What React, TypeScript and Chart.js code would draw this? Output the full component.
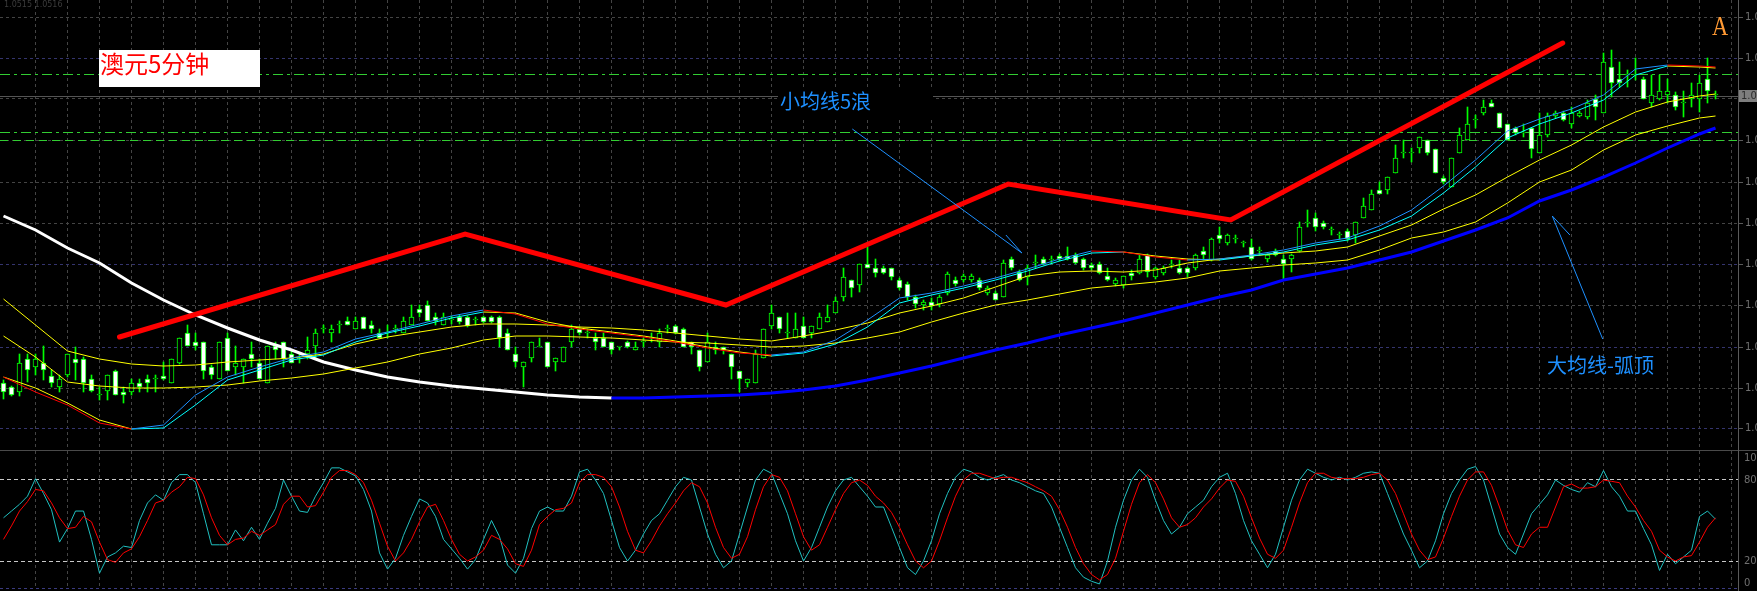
import React, { useEffect, useRef } from "react";
import { Chart, registerables } from "chart.js";

Chart.register(...registerables);

const WIDTH = 1757;
const MAIN_H = 450;
const SUB_H = 141;
const AXIS_W = 19;
const BAR_PX = 8;
const X_MIN = -0.4375;
const X_MAX = X_MIN + (WIDTH - AXIS_W) / BAR_PX;
const Y_MIN = 4810;
const Y_MAX = 5260;

// Prices are in points: price = 1 + points / 100000
const opens = [
  4877, 4873, 4868, 4901, 4893, 4897, 4884, 4873, 4885, 4901,
  4901, 4881, 4865, 4869, 4889, 4868, 4868, 4877, 4881, 4881,
  4884, 4877, 4897, 4927, 4918, 4918, 4893, 4881, 4922, 4893,
  4893, 4906, 4897, 4877, 4914, 4918, 4906, 4901, 4906, 4914,
  4931, 4927, 4935, 4939, 4931, 4943, 4935, 4927, 4927, 4931,
  4927, 4935, 4951, 4955, 4943, 4935, 4940, 4943, 4943, 4940,
  4943, 4943, 4943, 4927, 4906, 4893, 4902, 4913, 4918, 4898,
  4898, 4918, 4931, 4927, 4922, 4922, 4918, 4913, 4918, 4910,
  4918, 4922, 4918, 4931, 4934, 4931, 4918, 4910, 4898, 4913,
  4913, 4906, 4889, 4877, 4877, 4902, 4934, 4943, 4927, 4922,
  4934, 4927, 4931, 4938, 4947, 4963, 4980, 4975, 4996, 4992,
  4992, 4992, 4980, 4976, 4963, 4955, 4958, 4956, 4967, 4980,
  4980, 4980, 4980, 4967, 4967, 4963, 5001, 4988, 4983, 4997,
  5001, 5000, 5004, 5004, 5005, 5001, 4995, 4996, 4984, 4976,
  4975, 4987, 4987, 5005, 4983, 4987, 4995, 4992, 4992, 4992,
  5009, 5000, 5025, 5017, 5021, 5017, 5013, 5009, 5001, 5009,
  5001, 5001, 5009, 5037, 5042, 5037, 5030, 5025, 5029, 5025,
  5042, 5050, 5070, 5070, 5087, 5107, 5107, 5112, 5120, 5111,
  5082, 5073, 5107, 5120, 5140, 5147, 5157, 5147, 5136, 5132,
  5127, 5132, 5107, 5125, 5144, 5147, 5136, 5144, 5143, 5161,
  5147, 5193, 5181, 5185, 5185, 5181, 5157, 5161, 5165, 5165,
  5157, 5161, 5161, 5181, 5165,
];
const highs = [
  4880, 4874, 4906, 4906, 4906, 4914, 4890, 4885, 4906, 4913,
  4903, 4885, 4873, 4885, 4890, 4873, 4881, 4881, 4885, 4885,
  4898, 4901, 4922, 4935, 4927, 4918, 4895, 4918, 4927, 4914,
  4901, 4918, 4901, 4914, 4918, 4918, 4910, 4906, 4923, 4931,
  4935, 4935, 4939, 4943, 4943, 4943, 4939, 4931, 4935, 4935,
  4943, 4955, 4955, 4959, 4947, 4947, 4944, 4945, 4944, 4943,
  4944, 4944, 4944, 4931, 4913, 4898, 4918, 4922, 4918, 4902,
  4913, 4935, 4933, 4931, 4927, 4927, 4918, 4913, 4919, 4918,
  4922, 4927, 4931, 4935, 4935, 4932, 4918, 4910, 4927, 4918,
  4913, 4906, 4889, 4881, 4910, 4931, 4955, 4943, 4947, 4947,
  4943, 4934, 4947, 4955, 4963, 4992, 4980, 4996, 5013, 5001,
  4994, 4992, 4982, 4978, 4965, 4960, 4962, 4965, 4988, 4983,
  4986, 4986, 4982, 4974, 4969, 5000, 5003, 4990, 4995, 5005,
  5003, 5004, 5006, 5013, 5007, 5002, 4997, 4998, 4992, 4982,
  4984, 4990, 5005, 5006, 4993, 4994, 5000, 5000, 4993, 5006,
  5013, 5022, 5033, 5026, 5025, 5019, 5021, 5013, 5006, 5011,
  5005, 5006, 5038, 5050, 5047, 5039, 5033, 5028, 5031, 5038,
  5062, 5070, 5078, 5083, 5115, 5120, 5112, 5123, 5120, 5111,
  5084, 5102, 5132, 5153, 5145, 5160, 5160, 5147, 5136, 5133,
  5136, 5132, 5147, 5147, 5149, 5149, 5153, 5149, 5160, 5165,
  5207, 5210, 5198, 5190, 5202, 5183, 5185, 5185, 5181, 5168,
  5169, 5177, 5185, 5202, 5169,
];
const lows = [
  4861, 4864, 4864, 4878, 4885, 4880, 4873, 4868, 4883, 4880,
  4868, 4868, 4860, 4860, 4865, 4857, 4865, 4868, 4868, 4868,
  4880, 4877, 4896, 4914, 4910, 4881, 4881, 4881, 4889, 4885,
  4877, 4893, 4881, 4877, 4901, 4893, 4897, 4897, 4901, 4901,
  4927, 4918, 4927, 4935, 4931, 4931, 4927, 4922, 4922, 4927,
  4927, 4935, 4943, 4939, 4935, 4935, 4936, 4936, 4933, 4935,
  4937, 4937, 4913, 4910, 4893, 4873, 4898, 4913, 4893, 4889,
  4898, 4913, 4925, 4922, 4910, 4913, 4906, 4910, 4912, 4910,
  4913, 4918, 4913, 4927, 4926, 4913, 4906, 4889, 4898, 4906,
  4906, 4881, 4868, 4873, 4877, 4902, 4931, 4927, 4922, 4922,
  4922, 4922, 4931, 4938, 4947, 4959, 4963, 4968, 4992, 4983,
  4986, 4980, 4970, 4960, 4952, 4950, 4950, 4953, 4965, 4974,
  4978, 4978, 4970, 4965, 4960, 4963, 4990, 4979, 4975, 4992,
  4995, 4996, 4999, 5000, 4996, 4990, 4990, 4986, 4979, 4974,
  4972, 4980, 4986, 4983, 4981, 4985, 4992, 4986, 4983, 4990,
  5000, 4999, 5017, 5015, 5017, 5013, 5000, 5005, 4998, 5004,
  4980, 4988, 5008, 5033, 5029, 5031, 5025, 5021, 5019, 5017,
  5042, 5050, 5066, 5066, 5087, 5102, 5098, 5107, 5105, 5087,
  5076, 5073, 5107, 5120, 5132, 5145, 5153, 5132, 5120, 5125,
  5123, 5102, 5107, 5123, 5142, 5139, 5132, 5143, 5141, 5140,
  5147, 5163, 5173, 5173, 5180, 5161, 5153, 5160, 5157, 5150,
  5143, 5153, 5148, 5157, 5161,
];
const closes = [
  4868, 4865, 4897, 4890, 4901, 4890, 4877, 4881, 4906, 4897,
  4877, 4869, 4865, 4885, 4865, 4865, 4877, 4873, 4877, 4881,
  4881, 4901, 4922, 4914, 4914, 4889, 4885, 4918, 4889, 4897,
  4901, 4901, 4881, 4914, 4910, 4901, 4897, 4901, 4910, 4927,
  4931, 4931, 4935, 4935, 4939, 4931, 4931, 4922, 4927, 4931,
  4939, 4943, 4947, 4939, 4939, 4943, 4940, 4938, 4934, 4940,
  4938, 4938, 4922, 4910, 4898, 4898, 4918, 4913, 4893, 4902,
  4913, 4931, 4927, 4927, 4918, 4913, 4910, 4913, 4913, 4913,
  4918, 4922, 4927, 4931, 4927, 4913, 4913, 4893, 4918, 4910,
  4910, 4893, 4881, 4881, 4906, 4931, 4947, 4931, 4927, 4931,
  4922, 4934, 4943, 4943, 4959, 4983, 4972, 4996, 4992, 4987,
  4987, 4983, 4972, 4963, 4956, 4958, 4954, 4963, 4986, 4976,
  4984, 4984, 4972, 4972, 4960, 4997, 4992, 4980, 4992, 4997,
  4996, 5000, 5001, 5001, 4997, 4992, 4992, 4987, 4980, 4980,
  4984, 4984, 5001, 4988, 4992, 4992, 4995, 4987, 4987, 5005,
  5005, 5021, 5021, 5025, 5021, 5017, 5001, 5009, 5005, 5005,
  4996, 5005, 5033, 5037, 5033, 5033, 5030, 5025, 5021, 5038,
  5054, 5066, 5066, 5083, 5102, 5107, 5107, 5123, 5107, 5087,
  5078, 5102, 5125, 5136, 5140, 5153, 5153, 5132, 5120, 5127,
  5127, 5111, 5125, 5144, 5147, 5140, 5147, 5147, 5157, 5153,
  5198, 5177, 5177, 5185, 5185, 5161, 5165, 5169, 5169, 5153,
  5157, 5165, 5177, 5169, 5165,
];

// Moving averages, read every 4 bars (last at bar 214)
const maBars = [
  0, 4, 8, 12, 16, 20, 24, 28, 32, 36, 40, 44, 48, 52, 56, 60, 64, 68, 72, 76,
  80, 84, 88, 92, 96, 100, 104, 108, 112, 116, 120, 124, 128, 132, 136, 140, 144, 148, 152, 156,
  160, 164, 168, 172, 176, 180, 184, 188, 192, 196, 200, 204, 208, 212, 214,
];
const bigMA = [
  5044, 5030, 5012, 4997, 4977, 4960, 4945, 4932, 4920, 4910, 4898, 4890, 4883, 4878, 4874, 4871, 4868, 4865, 4863, 4862,
  4862, 4863, 4864, 4865, 4867, 4870, 4874, 4880, 4887, 4894, 4902, 4910, 4917, 4925, 4932, 4939, 4947, 4955, 4963, 4970,
  4980, 4986, 4992, 5000, 5008, 5019, 5030, 5042, 5059, 5070, 5083, 5097, 5112, 5126, 5132,
];
const yellowMA1 = [
  4961, 4935, 4909, 4901, 4896, 4894, 4895, 4898, 4900, 4902, 4906, 4916, 4923, 4928, 4933, 4936, 4936, 4935, 4933, 4932,
  4930, 4927, 4924, 4921, 4919, 4924, 4930, 4937, 4947, 4954, 4962, 4973, 4984, 4988, 4989, 4988, 4990, 4997, 5001, 5004,
  5007, 5009, 5013, 5024, 5035, 5051, 5065, 5083, 5100, 5115, 5133, 5148, 5158, 5164, 5166,
];
const yellowMA2 = [
  4924, 4903, 4878, 4874, 4872, 4872, 4873, 4875, 4879, 4882, 4886, 4892, 4898, 4906, 4912, 4920, 4924, 4924, 4923, 4922,
  4920, 4918, 4917, 4915, 4913, 4914, 4917, 4922, 4928, 4938, 4947, 4955, 4960, 4966, 4972, 4975, 4978, 4982, 4989, 4992,
  4995, 4997, 5000, 5010, 5022, 5028, 5038, 5057, 5078, 5090, 5110, 5125, 5134, 5142, 5144,
];
const fastMA1 = [
  4883, 4868, 4855, 4837, 4831, 4835, 4865, 4883, 4893, 4902, 4908, 4921, 4928, 4936, 4944, 4950, 4946, 4936, 4931, 4927,
  4923, 4918, 4912, 4907, 4905, 4908, 4920, 4940, 4962, 4967, 4974, 4982, 4991, 5001, 5009, 5008, 5003, 5000, 5001, 5005,
  5010, 5017, 5022, 5034, 5050, 5074, 5100, 5129, 5141, 5151, 5165, 5191, 5195, 5194, 5193,
];
const fastMA2 = [
  4883, 4872, 4857, 4840, 4831, 4832, 4855, 4880, 4890, 4900, 4905, 4918, 4927, 4934, 4942, 4948, 4947, 4938, 4932, 4928,
  4924, 4919, 4913, 4908, 4904, 4907, 4916, 4933, 4957, 4965, 4972, 4980, 4989, 4999, 5007, 5008, 5004, 5001, 5000, 5004,
  5008, 5015, 5020, 5030, 5044, 5067, 5093, 5122, 5136, 5147, 5160, 5185, 5194, 5193, 5192,
];

// Stochastic oscillator, one value per bar
const stochK = [
  52, 57, 62, 68, 81, 70, 58, 34, 44, 57,
  57, 36, 11, 23, 26, 31, 30, 50, 63, 69,
  65, 78, 84, 84, 78, 55, 32, 32, 32, 43,
  35, 45, 36, 48, 59, 80, 68, 57, 56, 68,
  78, 89, 89, 86, 83, 73, 57, 26, 14, 22,
  39, 53, 66, 63, 53, 36, 29, 22, 14, 21,
  36, 50, 38, 17, 11, 22, 44, 57, 60, 57,
  57, 68, 86, 88, 80, 70, 50, 30, 20, 28,
  40, 50, 55, 65, 75, 82, 80, 60, 40, 25,
  15, 20, 40, 60, 80, 88, 85, 70, 55, 35,
  20, 30, 45, 60, 72, 80, 82, 75, 68, 60,
  60, 45, 30, 15, 10, 20, 35, 55, 70, 82,
  88, 86, 82, 80, 82, 84, 80, 78, 75, 72,
  70, 60, 45, 30, 15, 8, 5, 3, 20, 45,
  65, 80, 88, 82, 65, 50, 40, 45, 55, 60,
  65, 75, 82, 85, 70, 50, 35, 25, 15, 25,
  45, 65, 80, 88, 85, 82, 80, 82, 80, 82,
  85, 86, 85, 70, 55, 40, 28, 15, 20, 35,
  55, 70, 80, 88, 90, 80, 60, 40, 30, 25,
  40, 55, 62, 69, 80, 76, 73, 71, 78, 75,
  87, 75, 68, 57, 57, 44, 32, 13, 25, 18,
  23, 28, 53, 57, 51,
];
const stochD = [
  36, 46, 57, 64, 73, 72, 63, 52, 44, 45,
  53, 49, 34, 21, 19, 26, 29, 38, 50, 63,
  65, 71, 75, 82, 81, 69, 52, 39, 32, 36,
  37, 42, 39, 43, 47, 62, 68, 68, 60, 61,
  71, 82, 87, 87, 84, 78, 65, 48, 31, 20,
  26, 36, 49, 60, 62, 50, 36, 25, 20, 23,
  28, 39, 36, 29, 18, 16, 28, 47, 53, 58,
  59, 63, 78, 84, 84, 82, 75, 60, 42, 28,
  26, 35, 46, 55, 63, 72, 78, 75, 63, 45,
  30, 22, 25, 38, 58, 75, 84, 82, 72, 55,
  38, 28, 32, 45, 58, 70, 78, 80, 76, 68,
  63, 56, 45, 32, 20, 15, 20, 35, 52, 68,
  80, 85, 85, 83, 81, 82, 82, 80, 78, 75,
  72, 68, 58, 45, 30, 18, 10, 6, 10, 22,
  42, 62, 78, 84, 78, 66, 52, 45, 47, 52,
  60, 66, 74, 80, 79, 68, 52, 37, 25, 22,
  28, 45, 63, 78, 85, 85, 82, 81, 81, 81,
  82, 84, 85, 80, 70, 55, 40, 28, 21, 23,
  37, 53, 68, 80, 86, 86, 76, 60, 43, 32,
  30, 40, 45, 45, 60, 75, 77, 74, 74, 75,
  80, 79, 78, 68, 60, 50, 42, 28, 23, 20,
  23, 24, 34, 45, 52,
];

// Hand-drawn annotations (bar position, price in points)
const trendBars = [14.5, 57.7, 90.3, 125.6, 153.4, 194.9];
const trendPrices = [4923, 5026, 4955, 5076, 5040, 5217];
const arrow1Bars = [106.1, 127.3, 125.3];
const arrow1Prices = [5131, 5007, 5025];
const arrow2Bars = [199.9, 193.6, 195.8];
const arrow2Prices = [4921, 5044, 5025];

// Axis / level values
const priceTicks = [5243, 5202, 5161, 5120, 5078, 5037, 4996, 4955, 4913, 4872, 4832];
const blueGridTicks = [5202, 4996, 4913, 4832];
const levelPrices = [5185, 5128, 5120];
const bidPrice = 5164;
const stochLevels = [80, 20];
const stochTicks = [100, 80, 20, 0];

const GRID = "#444444";
const GRID_BLUE = "#34346e";
const AXIS = "#5a5a5a";
const LABEL = "#707070";
const LIME = "#00ff00";
const GREEN_LEVEL = "#32cd32";
const ANNOT_BLUE = "#1e90ff";
const CJK = '"Noto Sans CJK SC", "Noto Sans", sans-serif';
const AXIS_FONT = '10px "DejaVu Sans", sans-serif';

const fmtPrice = (v: number) => (1 + v / 100000).toFixed(4);
const pts = (xs: number[], ys: number[]) => xs.map((x, k) => ({ x, y: ys[k] }));
const gridBars = maBars.filter((b) => b > 0 && b % 4 === 0).concat([216]);

const crisp = (p: number) => Math.floor(p) + 0.5;

function drawVerticalGrid(chart: any, top: number, bottom: number) {
  const { ctx, scales } = chart;
  ctx.save();
  ctx.strokeStyle = GRID;
  ctx.lineWidth = 1;
  ctx.setLineDash([3, 3]);
  for (const b of gridBars) {
    const px = crisp(scales.x.getPixelForValue(b));
    ctx.beginPath();
    ctx.moveTo(px, top);
    ctx.lineTo(px, bottom);
    ctx.stroke();
  }
  ctx.restore();
}

const mainPlugin = {
  id: "mt4main",
  beforeDraw(chart: any) {
    const { ctx, width, height } = chart;
    ctx.save();
    ctx.fillStyle = "#000";
    ctx.fillRect(0, 0, width, height);
    ctx.restore();
  },
  beforeDatasetsDraw(chart: any) {
    const { ctx, chartArea: a, scales } = chart;
    const y = scales.y;
    drawVerticalGrid(chart, 0, MAIN_H);
    ctx.save();
    ctx.lineWidth = 1;
    // horizontal grid
    ctx.setLineDash([3, 3]);
    for (const v of priceTicks) {
      const py = crisp(y.getPixelForValue(v));
      ctx.strokeStyle = blueGridTicks.includes(v) ? GRID_BLUE : GRID;
      ctx.beginPath();
      ctx.moveTo(a.left, py);
      ctx.lineTo(a.right, py);
      ctx.stroke();
    }
    // green level lines
    const dashes = [[10, 4, 3, 4], [10, 4, 3, 4], [8, 5]];
    levelPrices.forEach((v, k) => {
      const py = crisp(y.getPixelForValue(v));
      ctx.strokeStyle = GREEN_LEVEL;
      ctx.setLineDash(dashes[k]);
      ctx.beginPath();
      ctx.moveTo(a.left, py);
      ctx.lineTo(a.right, py);
      ctx.stroke();
    });
    // bid line
    ctx.setLineDash([]);
    ctx.strokeStyle = "#555555";
    const by = crisp(y.getPixelForValue(bidPrice));
    ctx.beginPath();
    ctx.moveTo(a.left, by);
    ctx.lineTo(a.right, by);
    ctx.stroke();
    ctx.restore();
  },
  afterDatasetsDraw(chart: any) {
    const { ctx, chartArea: a, scales } = chart;
    const y = scales.y;
    ctx.save();
    // right axis
    ctx.strokeStyle = AXIS;
    ctx.lineWidth = 1;
    ctx.beginPath();
    ctx.moveTo(crisp(a.right), 0);
    ctx.lineTo(crisp(a.right), MAIN_H);
    ctx.stroke();
    ctx.font = AXIS_FONT;
    ctx.fillStyle = LABEL;
    ctx.textBaseline = "middle";
    ctx.textAlign = "left";
    for (const v of priceTicks) {
      const py = crisp(y.getPixelForValue(v));
      ctx.beginPath();
      ctx.moveTo(a.right, py);
      ctx.lineTo(a.right + 5, py);
      ctx.stroke();
      ctx.fillText(fmtPrice(v), a.right + 7, py);
    }
    // bid tag
    const by = Math.round(y.getPixelForValue(bidPrice));
    ctx.fillStyle = "#7e7e7e";
    ctx.fillRect(a.right + 1, by - 6, AXIS_W, 12);
    ctx.fillStyle = "#2c2c2c";
    ctx.fillText(fmtPrice(bidPrice), a.right + 3, by);

    // header prices
    ctx.font = '8px "DejaVu Sans", sans-serif';
    ctx.fillStyle = "#3c3c3c";
    ctx.textBaseline = "alphabetic";
    ctx.fillText("1.0515 1.0516", 4, 7);

    // title box
    ctx.fillStyle = "#ffffff";
    ctx.fillRect(99, 50, 161, 37);
    ctx.fillStyle = "#ff0000";
    ctx.font = `24px ${CJK}`;
    ctx.textBaseline = "middle";
    ctx.fillText("澳元5分钟", 100, 64);

    // small MA label
    ctx.fillStyle = "#000";
    ctx.fillRect(778, 90, 155, 27);
    ctx.fillStyle = ANNOT_BLUE;
    ctx.font = `20px ${CJK}`;
    ctx.fillText("小均线5浪", 780, 101);

    // big MA label
    ctx.fillText("大均线-弧顶", 1547, 365);

    // "A"
    ctx.save();
    ctx.fillStyle = "#ff9933";
    ctx.font = '28px "Liberation Serif", serif';
    ctx.textBaseline = "alphabetic";
    ctx.translate(1712, 35);
    ctx.scale(0.8, 1);
    ctx.fillText("A", 0, 0);
    ctx.restore();
    ctx.restore();
  },
};

const subPlugin = {
  id: "mt4sub",
  beforeDraw(chart: any) {
    const { ctx, width, height } = chart;
    ctx.save();
    ctx.fillStyle = "#000";
    ctx.fillRect(0, 0, width, height);
    ctx.restore();
  },
  beforeDatasetsDraw(chart: any) {
    const { ctx, chartArea: a, scales } = chart;
    const y = scales.y;
    drawVerticalGrid(chart, 1, SUB_H - 2);
    ctx.save();
    ctx.lineWidth = 1;
    // separator
    ctx.strokeStyle = "#4a4a4a";
    ctx.beginPath();
    ctx.moveTo(0, 0.5);
    ctx.lineTo(WIDTH, 0.5);
    ctx.stroke();
    // levels
    ctx.strokeStyle = "#c8c8c8";
    ctx.setLineDash([4, 3]);
    for (const v of stochLevels) {
      const py = crisp(y.getPixelForValue(v));
      ctx.beginPath();
      ctx.moveTo(a.left, py);
      ctx.lineTo(a.right, py);
      ctx.stroke();
    }
    // bottom line
    ctx.strokeStyle = "#3a3a80";
    ctx.setLineDash([3, 3]);
    const py0 = crisp(y.getPixelForValue(0));
    ctx.beginPath();
    ctx.moveTo(a.left, py0);
    ctx.lineTo(a.right, py0);
    ctx.stroke();
    ctx.restore();
  },
  afterDatasetsDraw(chart: any) {
    const { ctx, chartArea: a, scales } = chart;
    const y = scales.y;
    ctx.save();
    ctx.strokeStyle = AXIS;
    ctx.lineWidth = 1;
    ctx.beginPath();
    ctx.moveTo(crisp(a.right), 0);
    ctx.lineTo(crisp(a.right), SUB_H);
    ctx.stroke();
    ctx.font = AXIS_FONT;
    ctx.fillStyle = LABEL;
    ctx.textBaseline = "middle";
    for (const v of stochTicks) {
      let py = y.getPixelForValue(v);
      py = Math.min(Math.max(py, a.top + 5), a.bottom - 5);
      ctx.fillText(String(v), a.right + 6, py);
    }
    ctx.restore();
  },
};

const xScale = {
  type: "linear",
  min: X_MIN,
  max: X_MAX,
  display: false,
  offset: false,
};

function mainConfig(): any {
  const bars = opens.map((_, i) => i);
  const segColor = (fall: string, rise: string) => ({
    borderColor: (c: any) => (c.p1.parsed.y < c.p0.parsed.y ? fall : rise),
  });
  return {
    type: "bar",
    data: {
      datasets: [
        {
          type: "bar",
          label: "wick",
          data: bars.map((i) => ({ x: i, y: [lows[i], highs[i]] })),
          backgroundColor: LIME,
          borderWidth: 0,
          barThickness: 1,
          stack: "candle",
          order: 20,
        },
        {
          type: "bar",
          label: "body",
          data: bars.map((i) => ({ x: i, y: [opens[i], closes[i]] })),
          backgroundColor: bars.map((i) => (closes[i] < opens[i] ? "#ffffff" : "#000000")),
          borderColor: LIME,
          borderWidth: 1,
          borderSkipped: false,
          barThickness: 5,
          minBarLength: 1,
          stack: "candle",
          order: 19,
        },
        {
          type: "line",
          label: "bigMA",
          data: pts(maBars, bigMA),
          borderWidth: 3,
          borderColor: "#0000ff",
          segment: segColor("#ffffff", "#0000ff"),
          pointRadius: 0,
          order: 15,
        },
        {
          type: "line",
          label: "ma2",
          data: pts(maBars, yellowMA2),
          borderWidth: 1,
          borderColor: "#ffff00",
          pointRadius: 0,
          order: 14,
        },
        {
          type: "line",
          label: "ma1",
          data: pts(maBars, yellowMA1),
          borderWidth: 1,
          borderColor: "#ffff00",
          pointRadius: 0,
          order: 13,
        },
        {
          type: "line",
          label: "fast2",
          data: pts(maBars, fastMA2),
          borderWidth: 1,
          borderColor: "#00ffff",
          segment: segColor("#ffff00", "#00ffff"),
          pointRadius: 0,
          order: 12,
        },
        {
          type: "line",
          label: "fast1",
          data: pts(maBars, fastMA1),
          borderWidth: 1,
          borderColor: ANNOT_BLUE,
          segment: segColor("#ff0000", ANNOT_BLUE),
          pointRadius: 0,
          order: 11,
        },
        {
          type: "line",
          label: "trend",
          data: pts(trendBars, trendPrices),
          borderWidth: 5,
          borderColor: "#ff0000",
          borderCapStyle: "round",
          pointRadius: 0,
          order: 5,
        },
        {
          type: "line",
          label: "arrow1",
          data: pts(arrow1Bars, arrow1Prices),
          borderWidth: 1,
          borderColor: ANNOT_BLUE,
          pointRadius: 0,
          order: 4,
        },
        {
          type: "line",
          label: "arrow2",
          data: pts(arrow2Bars, arrow2Prices),
          borderWidth: 1,
          borderColor: ANNOT_BLUE,
          pointRadius: 0,
          order: 4,
        },
      ],
    },
    options: {
      responsive: false,
      maintainAspectRatio: false,
      animation: false,
      devicePixelRatio: 1,
      events: [],
      layout: { padding: { left: 0, right: AXIS_W, top: 0, bottom: 0 } },
      plugins: { legend: { display: false }, tooltip: { enabled: false } },
      scales: {
        x: xScale,
        y: { type: "linear", min: Y_MIN, max: Y_MAX, display: false, stacked: false, beginAtZero: false },
      },
    },
    plugins: [mainPlugin],
  };
}

function subConfig(): any {
  const bars = stochK.map((_, i) => i);
  return {
    type: "line",
    data: {
      datasets: [
        {
          label: "%K",
          data: bars.map((i) => ({ x: i, y: stochK[i] })),
          borderColor: "#20c0c0",
          borderWidth: 1,
          pointRadius: 0,
          order: 2,
        },
        {
          label: "%D",
          data: bars.map((i) => ({ x: i, y: stochD[i] })),
          borderColor: "#ff0000",
          borderWidth: 1,
          pointRadius: 0,
          order: 1,
        },
      ],
    },
    options: {
      responsive: false,
      maintainAspectRatio: false,
      animation: false,
      devicePixelRatio: 1,
      events: [],
      layout: { padding: { left: 0, right: AXIS_W, top: 3, bottom: 3 } },
      plugins: { legend: { display: false }, tooltip: { enabled: false } },
      scales: {
        x: xScale,
        y: { type: "linear", min: 0, max: 100, display: false },
      },
    },
    plugins: [subPlugin],
  };
}

export default function App() {
  const mainRef = useRef<HTMLCanvasElement>(null);
  const subRef = useRef<HTMLCanvasElement>(null);
  useEffect(() => {
    const main = new Chart(mainRef.current as HTMLCanvasElement, mainConfig());
    const sub = new Chart(subRef.current as HTMLCanvasElement, subConfig());
    return () => {
      main.destroy();
      sub.destroy();
    };
  }, []);
  return (
    <div
      style={{
        position: "fixed",
        left: 0,
        top: 0,
        width: WIDTH,
        height: MAIN_H + SUB_H,
        background: "#000",
        overflow: "hidden",
      }}
    >
      <canvas
        ref={mainRef}
        width={WIDTH}
        height={MAIN_H}
        style={{ display: "block", width: WIDTH, height: MAIN_H }}
      />
      <canvas
        ref={subRef}
        width={WIDTH}
        height={SUB_H}
        style={{ display: "block", width: WIDTH, height: SUB_H }}
      />
    </div>
  );
}
